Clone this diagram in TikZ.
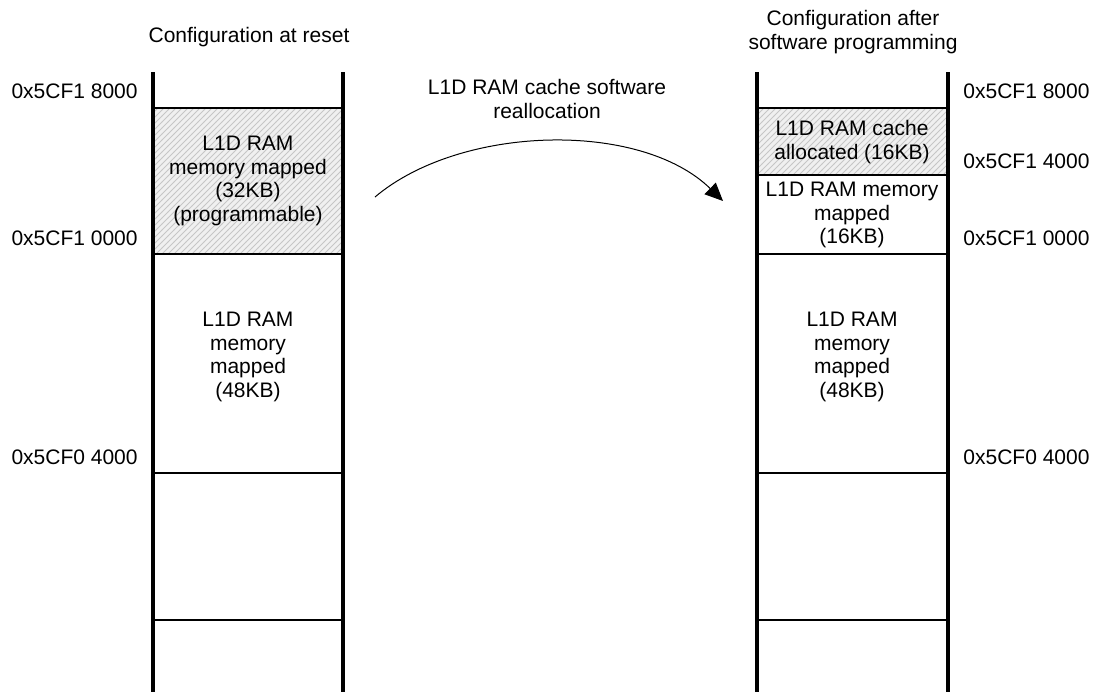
\documentclass[tikz,border=0pt]{standalone}
\usepackage{fontspec}
\setmainfont{Liberation Sans}
\usetikzlibrary{arrows.meta, patterns}
\tikzset{>={Triangle[width=8pt,length=9pt]}}
\tikzset{
  txt/.style={inner sep=0pt, align=center, font=\fontsize{10.5}{11.7}\selectfont},
  wall/.style={line width=1.6pt},
  bound/.style={line width=0.8pt},
  shade/.style={fill=gray!12},
  hatch/.style={pattern=north east lines, pattern color=gray!45}
}

\begin{document}
\begin{tikzpicture}[x=0.5pt, y=-0.5pt]
  \useasboundingbox (0,0) rectangle (1095,692);

  % hatched regions
  \fill[shade] (153,108) rectangle (343,254);
  \fill[hatch] (153,108) rectangle (343,254);
  \fill[shade] (757,108) rectangle (948,175);
  \fill[hatch] (757,108) rectangle (948,175);

  % left column
  \draw[bound] (153,108) -- (343,108);
  \draw[bound] (153,254) -- (343,254);
  \draw[bound] (153,473) -- (343,473);
  \draw[bound] (153,620) -- (343,620);
  \draw[wall] (153,72) -- (153,692);
  \draw[wall] (343,72) -- (343,692);

  % right column
  \draw[bound] (757,108) -- (948,108);
  \draw[bound] (757,175) -- (948,175);
  \draw[bound] (757,254) -- (948,254);
  \draw[bound] (757,473) -- (948,473);
  \draw[bound] (757,620) -- (948,620);
  \draw[wall] (757,72) -- (757,692);
  \draw[wall] (948,72) -- (948,692);

  % titles
  \node[txt] (TRESET) at (249,37) {Configuration at reset};
  \node[txt] (TPROG) at (853,32) {Configuration after\\software programming};
  \node[txt] (REALLOC) at (547,99) {L1D RAM cache software\\reallocation};

  % block texts
  \node[txt] (L32) at (248,181) {L1D RAM\\memory mapped\\(32KB)\\(programmable)};
  \node[txt] (L48) at (248,357) {L1D RAM\\memory\\mapped\\(48KB)};
  \node[txt] (RCACHE) at (852,142) {L1D RAM cache\\allocated (16KB)};
  \node[txt] (R16) at (852,215) {L1D RAM memory\\mapped\\(16KB)};
  \node[txt] (R48) at (852,357) {L1D RAM\\memory\\mapped\\(48KB)};

  % addresses
  \node[txt, anchor=east] (LA1) at (138,91) {0x5CF1 8000};
  \node[txt, anchor=east] (LA2) at (138,238) {0x5CF1 0000};
  \node[txt, anchor=east] (LA3) at (138,457) {0x5CF0 4000};
  \node[txt, anchor=west] (RA1) at (963,91) {0x5CF1 8000};
  \node[txt, anchor=west] (RA2) at (963,161) {0x5CF1 4000};
  \node[txt, anchor=west] (RA3) at (963,238) {0x5CF1 0000};
  \node[txt, anchor=west] (RA4) at (963,457) {0x5CF0 4000};

  % reallocation arrow
  \coordinate (AFROM) at (375,197);
  \coordinate (ATO) at (723,201);
  \draw[->, line width=0.5pt] (AFROM) .. controls (460,125) and (640,120) .. (ATO);
\end{tikzpicture}
\end{document}
